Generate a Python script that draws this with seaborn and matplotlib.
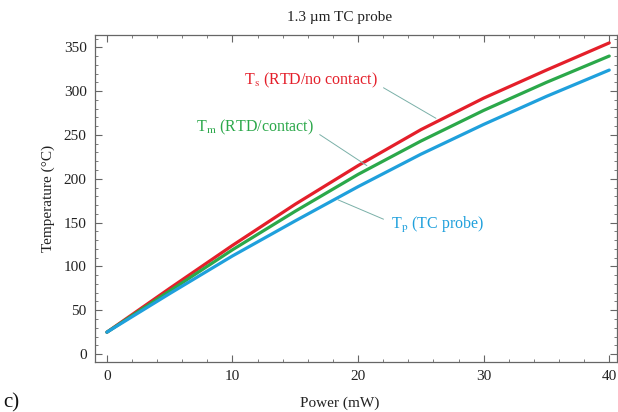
import numpy as np
import pandas as pd
import matplotlib
matplotlib.use("Agg")
import matplotlib.pyplot as plt
import seaborn as sns

# Data
power = [0, 5, 10, 15, 20, 25, 30, 35, 40]
t_s = [25, 75, 124, 171, 215, 256, 292, 324, 355]   # RTD / no contact
t_m = [25, 72, 119, 163, 205, 243, 278, 310, 340]   # RTD / contact
t_p = [25, 69, 112, 152, 191, 228, 262, 294, 324]   # TC probe
series_names = ["Ts", "Tm", "Tp"]
colors = ["#e41f2a", "#2ba84a", "#1fa0dc"]
x_ticks = [0, 10, 20, 30, 40]
y_ticks = [0, 50, 100, 150, 200, 250, 300, 350]

sns.set_theme(style="ticks")
plt.rcParams["font.family"] = ["Liberation Serif", "DejaVu Serif"]
plt.rcParams["mathtext.fontset"] = "stix"

df = pd.DataFrame({
    "Power": power * 3,
    "Temp": t_s + t_m + t_p,
    "series": [series_names[0]] * len(power) + [series_names[1]] * len(power) + [series_names[2]] * len(power),
})

fig = plt.figure(figsize=(6.18, 4.12), dpi=100)
ax = fig.add_axes([0.1537, 0.1214, 0.998 - 0.1537, 0.915 - 0.1214])

sns.lineplot(data=df, x="Power", y="Temp", hue="series", palette=colors,
             hue_order=series_names, linewidth=2.3, legend=False, ax=ax)

ax.set_xlim(-0.95, 40.6)
ax.set_ylim(-9, 364)
ax.set_xticks(x_ticks)
ax.set_yticks(y_ticks)
ax.set_xticks(np.arange(0, 41, 2), minor=True)
ax.set_yticks(np.arange(0, 361, 10), minor=True)
ax.tick_params(which="both", direction="in", top=True, right=True,
               color="#666666", labelsize=11, labelcolor="#222222")
ax.tick_params(which="major", length=5, width=0.8)
ax.tick_params(which="minor", length=2.5, width=0.6)
ax.tick_params(axis="x", labeltop=False, pad=6)
ax.tick_params(axis="y", labelright=False, pad=6)
for sp in ax.spines.values():
    sp.set_visible(True)
    sp.set_color("#666666")
    sp.set_linewidth(0.9)

ax.set_xlabel("Power (mW)", fontsize=11, color="#222222", labelpad=8)
ax.xaxis.set_label_coords(0.469, -0.105)
ax.set_ylabel("Temperature (°C)", fontsize=11, color="#222222", labelpad=6)
fig.text(340 / 618, 1 - 17 / 412, "1.3 µm TC probe", fontsize=11,
         color="#222222", ha="center", va="center")

# annotations
lead = "#7ab0a8"
ax.annotate(r"T$_\mathrm{s}$ (RTD/no contact)", xy=(26.2, 269), xytext=(16.25, 312),
            color=colors[0], fontsize=11.5, ha="center", va="center",
            arrowprops=dict(arrowstyle="-", color=lead, lw=0.7,
                            shrinkA=2, shrinkB=0, relpos=(1.0, 0.3)))
ax.annotate(r"T$_\mathrm{m}$ (RTD/contact)", xy=(20.7, 215), xytext=(11.8, 259),
            color=colors[1], fontsize=11.5, ha="center", va="center",
            arrowprops=dict(arrowstyle="-", color=lead, lw=0.7,
                            shrinkA=2, shrinkB=0, relpos=(1.0, 0.3)))
ax.annotate(r"T$_\mathrm{p}$ (TC probe)", xy=(18.4, 176), xytext=(26.3, 147),
            color=colors[2], fontsize=11.5, ha="center", va="center",
            arrowprops=dict(arrowstyle="-", color=lead, lw=0.7,
                            shrinkA=3, shrinkB=0, relpos=(0.0, 0.65)))

fig.text(0.005, 0.012, "c)", fontsize=15, color="#111111")

fig.savefig("out.png", dpi=100)
